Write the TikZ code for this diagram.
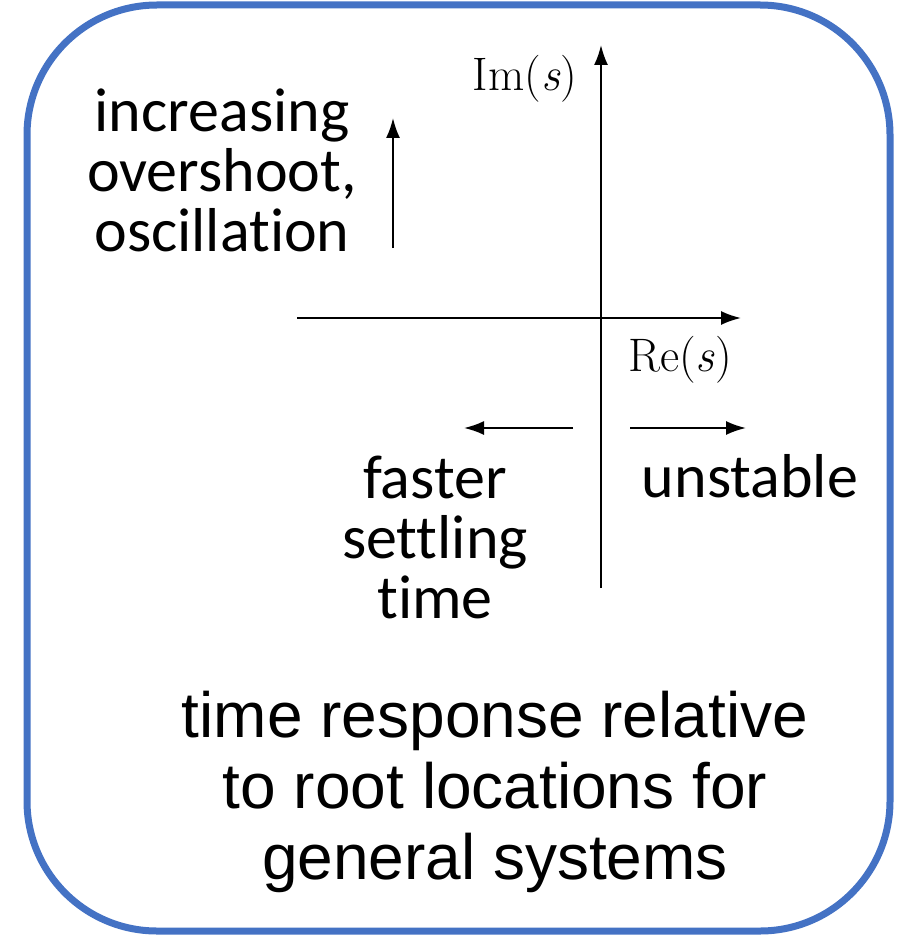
\documentclass[tikz,border=0pt]{standalone}
\usepackage[no-math]{fontspec}
\setmainfont{Carlito}[RawFeature={-liga;-dlig;-clig}]
\newfontfamily\arialf{Liberation Sans}
\newcommand{\lmrfont}{\fontfamily{lmr}\selectfont}
\usetikzlibrary{arrows.meta}
\definecolor{frameblue}{HTML}{4472C4}
\tikzset{
  axis/.style={line width=2pt,-{Latex[length=20pt,width=14pt]}},
  hint/.style={line width=2pt,-{Latex[length=20pt,width=14pt]}},
  lbl/.style={align=center,font=\fontsize{62}{60}\selectfont,inner sep=0pt},
  axlbl/.style={font=\fontsize{47}{52}\selectfont\lmrfont,inner sep=0pt},
  caption/.style={align=center,font=\arialf\fontsize{64}{71}\selectfont,inner sep=0pt}
}
\begin{document}
\begin{tikzpicture}[x=1pt,y=-1pt]
\useasboundingbox (0,0) rectangle (899,936);
\draw[line width=7pt,frameblue,rounded corners=130pt] (27,5) rectangle (890,931);
% axes
\coordinate (vb) at (601,588);
\coordinate (vt) at (601,45);
\coordinate (hl) at (297,318);
\coordinate (hr) at (741,318);
\draw[axis] (vb) -- (vt);
\draw[axis] (hl) -- (hr);
\node[axlbl] (im) at (525,79) {Im(\textit{s})};
\node[axlbl] (re) at (680,360) {Re(\textit{s})};
% hint arrows
\coordinate (ua) at (393,248);
\coordinate (ub) at (393,118);
\draw[hint] (ua) -- (ub);
\coordinate (la) at (573,428);
\coordinate (lb) at (464,428);
\draw[hint] (la) -- (lb);
\coordinate (ra) at (630,428);
\coordinate (rb) at (746,428);
\draw[hint] (ra) -- (rb);
% labels
\node[lbl] (osc) at (222,170) {increasing\\overshoot,\\oscillation};
\node[lbl] (fast) at (435,537) {faster\\settling\\time};
\node[lbl] (unst) at (750,476) {unstable};
\node[caption] (cap) at (495,792) {time response relative\\to root locations for\\general systems};
\end{tikzpicture}
\end{document}
